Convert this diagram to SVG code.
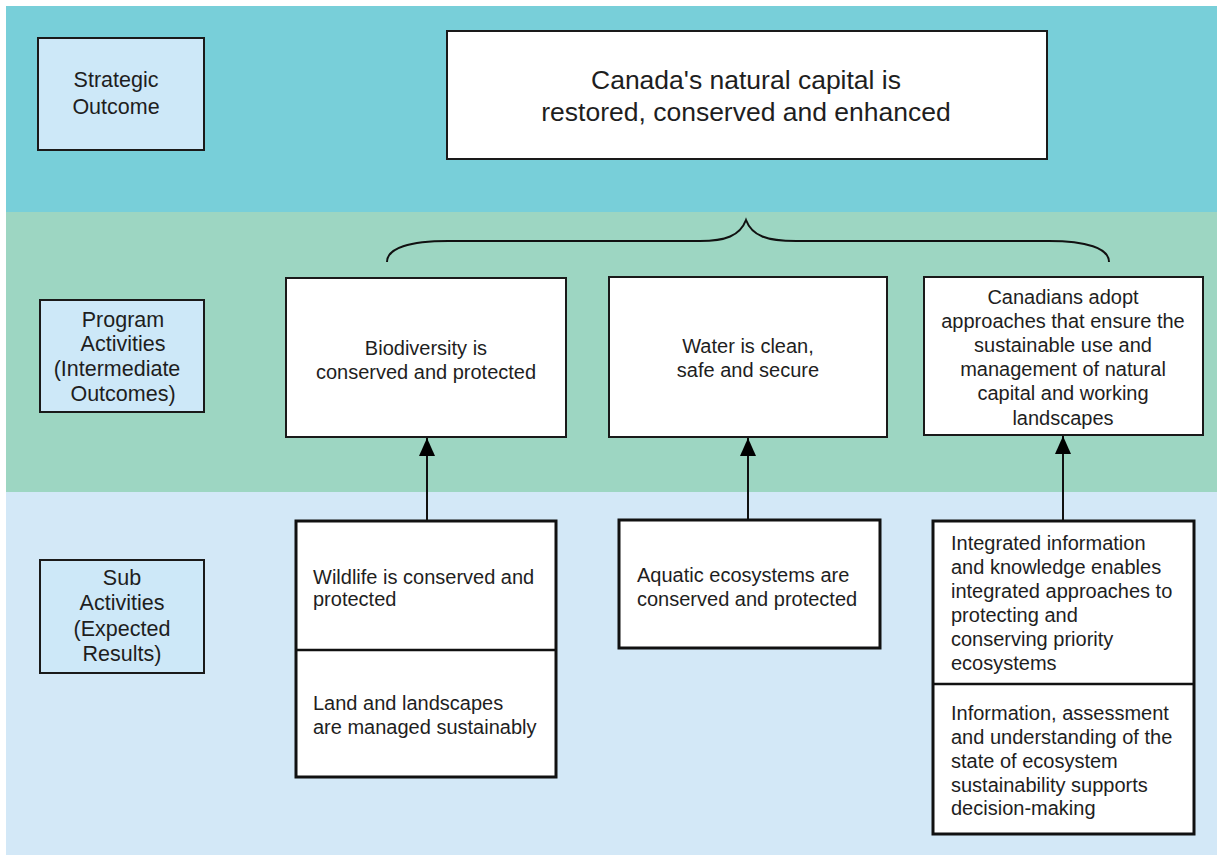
<svg xmlns="http://www.w3.org/2000/svg" width="1217" height="855" viewBox="0 0 1217 855">
<defs>
<style>
text{font-family:"Liberation Sans",Arial,sans-serif;fill:#1e1e1e}
.lbl{fill:#cde8f8;stroke:#1a1a1a;stroke-width:2}
.box{fill:#ffffff;stroke:#1a1a1a;stroke-width:2}
.sub{fill:#ffffff;stroke:#111;stroke-width:3}
.lt{font-size:21.5px;text-anchor:middle}
.bt{font-size:20px}
.ct{text-anchor:middle}
.mt{font-size:26.5px;text-anchor:middle}
.conn{stroke:#111;stroke-width:2;fill:none}
</style>
<marker id="arrow" viewBox="0 0 18 16" refX="18" refY="8" markerWidth="18" markerHeight="16" markerUnits="userSpaceOnUse" orient="auto">
<path d="M0,0 L18,8 L0,16 z" fill="#000"/>
</marker>
</defs>
<rect x="0" y="0" width="1217" height="855" fill="#ffffff"/>
<g id="bands">
<rect x="6" y="6" width="1211" height="206" fill="#78cfd9"/>
<rect x="6" y="212" width="1211" height="280" fill="#9dd6c2"/>
<rect x="6" y="492" width="1211" height="363" fill="#d3e8f7"/>
</g>
<g id="label-strategic">
<rect class="lbl" x="38" y="38" width="166" height="112"/>
<text class="lt" x="116" y="87">Strategic</text>
<text class="lt" x="116" y="114">Outcome</text>
</g>
<g id="label-program">
<rect class="lbl" x="40" y="300" width="164" height="112"/>
<text class="lt" x="123" y="327">Program</text>
<text class="lt" x="123" y="351">Activities</text>
<text class="lt" x="117" y="376">(Intermediate</text>
<text class="lt" x="123" y="401">Outcomes)</text>
</g>
<g id="label-sub">
<rect class="lbl" x="40" y="560" width="164" height="113"/>
<text class="lt" x="122" y="585">Sub</text>
<text class="lt" x="122" y="610">Activities</text>
<text class="lt" x="122" y="636">(Expected</text>
<text class="lt" x="122" y="661">Results)</text>
</g>
<g id="outcome">
<rect class="box" x="447" y="31" width="600" height="128"/>
<text class="mt" x="746" y="89">Canada's natural capital is</text>
<text class="mt" x="746" y="121">restored, conserved and enhanced</text>
</g>
<g id="pa-biodiversity">
<rect class="box" x="286" y="278" width="280" height="159"/>
<text class="bt ct" x="426" y="355">Biodiversity is</text>
<text class="bt ct" x="426" y="379">conserved and protected</text>
</g>
<g id="pa-water">
<rect class="box" x="609" y="277" width="278" height="160"/>
<text class="bt ct" x="748" y="353">Water is clean,</text>
<text class="bt ct" x="748" y="377">safe and secure</text>
</g>
<g id="pa-canadians">
<rect class="box" x="924" y="277" width="279" height="158"/>
<text class="bt ct" x="1063" y="304">Canadians adopt</text>
<text class="bt ct" x="1063" y="328">approaches that ensure the</text>
<text class="bt ct" x="1063" y="352">sustainable use and</text>
<text class="bt ct" x="1063" y="376">management of natural</text>
<text class="bt ct" x="1063" y="400">capital and working</text>
<text class="bt ct" x="1063" y="425">landscapes</text>
</g>
<g id="sa-wildlife">
<rect class="sub" x="296" y="521" width="260" height="256"/>
<line x1="296" y1="650" x2="556" y2="650" stroke="#111" stroke-width="2.5"/>
<text class="bt" x="313" y="584">Wildlife is conserved and</text>
<text class="bt" x="313" y="606">protected</text>
<text class="bt" x="313" y="710">Land and landscapes</text>
<text class="bt" x="313" y="734">are managed sustainably</text>
</g>
<g id="sa-aquatic">
<rect class="sub" x="619" y="520" width="261" height="128"/>
<text class="bt" x="637" y="582">Aquatic ecosystems are</text>
<text class="bt" x="637" y="606">conserved and protected</text>
</g>
<g id="sa-integrated">
<rect class="sub" x="933" y="521" width="261" height="313"/>
<line x1="933" y1="684" x2="1194" y2="684" stroke="#111" stroke-width="2.5"/>
<text class="bt" x="951" y="550">Integrated information</text>
<text class="bt" x="951" y="574">and knowledge enables</text>
<text class="bt" x="951" y="598">integrated approaches to</text>
<text class="bt" x="951" y="622">protecting and</text>
<text class="bt" x="951" y="646">conserving priority</text>
<text class="bt" x="951" y="670">ecosystems</text>
<text class="bt" x="951" y="720">Information, assessment</text>
<text class="bt" x="951" y="744">and understanding of the</text>
<text class="bt" x="951" y="768">state of ecosystem</text>
<text class="bt" x="951" y="792">sustainability supports</text>
<text class="bt" x="951" y="815">decision-making</text>
</g>
<g id="connectors">
<path class="conn" stroke-width="1.6" d="M387,262 C387,248 410,241 448,241 L700,241 C725,241 740,236 746,220 C752,236 767,241 796,241 L1049,241 C1086,241 1109,248 1109,262"/>
<line class="conn" x1="427" y1="521" x2="427" y2="438" marker-end="url(#arrow)"/>
<line class="conn" x1="748" y1="520" x2="748" y2="438" marker-end="url(#arrow)"/>
<line class="conn" x1="1063" y1="521" x2="1063" y2="436" marker-end="url(#arrow)"/>
</g>
</svg>
